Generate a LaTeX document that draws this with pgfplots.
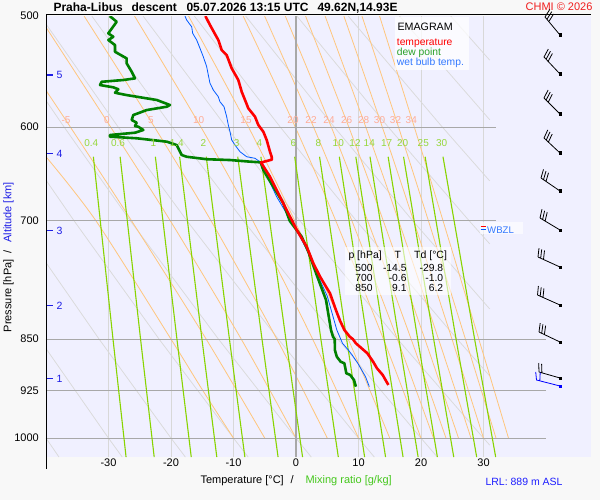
\documentclass[border=0pt]{standalone}
\usepackage{pgfplots}
\pgfplotsset{compat=1.18}
\usepackage{fontspec}
\setmainfont{Liberation Sans}
\definecolor{outerbg}{RGB}{248,248,248}
\definecolor{plotbg}{RGB}{240,240,255}
\definecolor{isobar}{RGB}{168,168,168}
\definecolor{isolight}{RGB}{216,216,216}
\definecolor{dryad}{RGB}{218,218,218}
\definecolor{moistad}{RGB}{255,198,125}
\definecolor{mixl}{RGB}{136,212,0}
\definecolor{mixlab}{RGB}{150,215,60}
\definecolor{moistlab}{RGB}{255,172,150}
\definecolor{tred}{RGB}{255,0,0}
\definecolor{tdgreen}{RGB}{0,128,0}
\definecolor{wbblue}{RGB}{0,90,255}
\definecolor{legblue}{RGB}{50,120,255}
\definecolor{leggreen}{RGB}{40,160,40}
\definecolor{altblue}{RGB}{30,30,230}
\definecolor{xlabgreen}{RGB}{70,200,30}
\definecolor{chmired}{RGB}{240,30,30}
\definecolor{lrlblue}{RGB}{30,30,255}
\pgfplotsset{
  dry/.style={dryad, line width=0.75pt},
  moist/.style={moistad, line width=0.8pt, smooth},
  mix/.style={mixl, line width=1.1pt},
  isoL/.style={isolight, line width=0.9pt},
  isoP/.style={isobar, line width=1.1pt},
}
\tikzset{
  mlab/.style={anchor=base, inner sep=0pt, font=\fontsize{10}{10}\selectfont, text=moistlab},
  wlab/.style={anchor=base, inner sep=0pt, font=\fontsize{10}{10}\selectfont, text=mixlab},
  alab/.style={anchor=base west, inner sep=0pt, font=\fontsize{10.5}{10.5}\selectfont, text=altblue},
  adash/.style={altblue, line width=1.1pt},
  tabt/.style={anchor=base east, inner sep=0pt, font=\fontsize{10.3}{10.3}\selectfont},
}
\begin{document}
\begin{tikzpicture}
\fill[outerbg] (0,0) rectangle (600pt,500pt);
% ---------- background (pixel axis) ----------
\begin{axis}[at={(0pt,0pt)}, anchor=south west, width=600pt, height=500pt,
  scale only axis, xmin=0, xmax=600, ymin=0, ymax=500, y dir=reverse,
  hide axis, clip=false]
  \fill[plotbg] (axis cs:47,16) rectangle (axis cs:591,457);
\end{axis}
% ---------- main emagram axis ----------
\begin{axis}[at={(46pt,43pt)}, anchor=south west, width=500pt, height=441pt,
  scale only axis, xmin=-40, xmax=40, ymode=log, ymin=500, ymax=1031.6,
  y dir=reverse,
  axis line style={draw=none}, tick style={draw=none}, major tick length=0pt,
  minor tick length=0pt,
  xtick={-30,-20,-10,0,10,20,30}, xticklabels={-30,-20,-10,0,10,20,30},
  ytick={500,600,700,850,925,1000}, yticklabels={500,600,700,850,925,1000},
  ticklabel style={font=\fontsize{11}{11}\selectfont, inner sep=0pt},
  xticklabel style={anchor=north, yshift=-1.5pt},
  yticklabel style={anchor=east, xshift=-7pt},
]
% isotherms
\addplot[isoL] coordinates {(-30,500)(-30,1031.6)};
\addplot[isoL] coordinates {(-20,500)(-20,1031.6)};
\addplot[isoL] coordinates {(-10,500)(-10,1031.6)};
\addplot[isoL] coordinates {(10,500)(10,1031.6)};
\addplot[isoL] coordinates {(20,500)(20,1031.6)};
\addplot[isoL] coordinates {(30,500)(30,1031.6)};
% dry adiabats
\addplot[dry] coordinates {(-40,1000)(-37.92,1031.6)};
\addplot[dry] coordinates {(-40,863.3)(-30,1000)(-27.8,1031.6)};
\addplot[dry] coordinates {(-40,749.7)(-31.5,850)(-20,1000)(-17.7,1031.6)};
\addplot[dry] coordinates {(-40,654.7)(-35.5,700)(-21.9,850)(-10,1000)(-7.65,1031.6)};
\addplot[dry] coordinates {(-40,574.5)(-37.1,600)(-26.5,700)(-12.4,850)(0,1000)(2.44,1031.6)};
\addplot[dry] coordinates {(-40,506.6)(-28.45,600)(-17.43,700)(-2.84,850)(10,1000)(12.53,1031.6)};
\addplot[dry] coordinates {(-32.67,500)(-19.80,600)(-8.40,700)(6.70,850)(20,1000)(22.62,1031.6)};
\addplot[dry] coordinates {(-24.46,500)(-11.16,600)(0.63,700)(16.25,850)(30,1000)(31,1011.6)};
\addplot[dry] coordinates {(-16.26,500)(-2.52,600)(9.66,700)(25.79,850)(31,903.0)};
\addplot[dry] coordinates {(-8.06,500)(6.12,600)(18.69,700)(31,808.9)};
\addplot[dry] coordinates {(0.14,500)(14.76,600)(27.72,700)(31,727.0)};
\addplot[dry] coordinates {(8.35,500)(23.41,600)(31,655.6)};
\addplot[dry] coordinates {(16.55,500)(31,592.9)};
\addplot[dry] coordinates {(24.75,500)(31,537.6)};
% moist adiabats
\addplot[moist] coordinates {(-10,1000)(-14.9,925)(-20.0,850)(-32.0,700)(-40,630)};
\addplot[moist] coordinates {(-5,1000)(-14.37,850)(-26.30,700)(-36.10,600)(-40,565)};
\addplot[moist] coordinates {(0,1000)(-8.76,850)(-20.10,700)(-29.65,600)(-40,509.3)};
\addplot[moist] coordinates {(5,1000)(-3.06,850)(-13.59,700)(-22.64,600)(-33.90,500)};
\addplot[moist] coordinates {(10,1000)(2.66,850)(-6.90,700)(-15.21,600)(-25.83,500)};
\addplot[moist] coordinates {(15,1000)(8.35,850)(-0.20,700)(-7.60,600)(-17.19,500)};
\addplot[moist] coordinates {(20,1000)(13.99,850)(6.37,700)(-0.12,600)(-8.45,500)};
\addplot[moist] coordinates {(22,1000)(16.21,850)(8.95,700)(2.81,600)(-5.02,500)};
\addplot[moist] coordinates {(24,1000)(18.42,850)(11.47,700)(5.65,600)(-1.71,500)};
\addplot[moist] coordinates {(26,1000)(20.62,850)(13.97,700)(8.45,600)(1.53,500)};
\addplot[moist] coordinates {(28,1000)(22.80,850)(16.42,700)(11.17,600)(4.66,500)};
\addplot[moist] coordinates {(30,1000)(24.96,850)(18.82,700)(13.81,600)(7.66,500)};
\addplot[moist] coordinates {(32,1000)(27.11,850)(21.19,700)(16.40,600)(10.56,500)};
\addplot[moist] coordinates {(34,1000)(29.25,850)(23.53,700)(18.93,600)(13.37,500)};
% isobars and 0 isotherm
\addplot[isoP] coordinates {(0,500)(0,1031.6)};
\addplot[isoP] coordinates {(-40,600)(32,600)};
\addplot[isoP] coordinates {(-40,700)(32,700)};
\addplot[isoP] coordinates {(-40,850)(40,850)};
\addplot[isoP] coordinates {(-40,925)(40,925)};
\addplot[isoP] coordinates {(-40,1000)(40,1000)};
% mixing ratio lines
\addplot[mix] coordinates {(-32.42,630)(-29.28,850)(-27.19,1031.6)};
\addplot[mix] coordinates {(-28.14,630)(-24.87,850)(-22.69,1031.6)};
\addplot[mix] coordinates {(-22.50,630)(-19.05,850)(-16.76,1031.6)};
\addplot[mix] coordinates {(-18.62,630)(-15.05,850)(-12.67,1031.6)};
\addplot[mix] coordinates {(-14.36,630)(-10.65,850)(-8.18,1031.6)};
\addplot[mix] coordinates {(-9.32,630)(-5.44,850)(-2.87,1031.6)};
\addplot[mix] coordinates {(-5.62,630)(-1.62,850)(1.05,1031.6)};
\addplot[mix] coordinates {(-0.21,630)(3.98,850)(6.77,1031.6)};
\addplot[mix] coordinates {(3.77,630)(8.10,850)(10.98,1031.6)};
\addplot[mix] coordinates {(6.93,630)(11.38,850)(14.33,1031.6)};
\addplot[mix] coordinates {(9.57,630)(14.11,850)(17.13,1031.6)};
\addplot[mix] coordinates {(11.84,630)(16.46,850)(19.54,1031.6)};
\addplot[mix] coordinates {(14.74,630)(19.47,850)(22.62,1031.6)};
\addplot[mix] coordinates {(17.21,630)(22.03,850)(25.24,1031.6)};
\addplot[mix] coordinates {(20.66,630)(25.61,850)(28.91,1031.6)};
\addplot[mix] coordinates {(23.52,630)(28.58,850)(31.95,1031.6)};
% wet bulb temperature
\addplot[wbblue, line width=0.8pt] coordinates {(-17.76,500)(-17.49,503.3)(-16.69,508.9)(-16.53,514.4)(-15.89,520.1)(-15.36,527.2)(-14.83,534.6)(-14.29,543.4)(-14.03,550.9)(-13.76,558.4)(-13.23,564.6)(-12.43,570.9)(-12.16,575.6)(-11.52,580.3)(-11.09,589.9)(-10.83,598.0)(-10.56,604.6)(-10.29,612.9)(-9.76,618.0)(-8.96,624.8)(-7.89,630.0)(-6.56,631.6)(-5.65,635.8)(-4.6,651)(-3.1,672.7)(-0.8,700)(0.6,718)(1.8,735)(3.5,766)(5.0,792)(6.53,837.3)(7.44,855.8)(8.37,865.3)(8.98,872.4)(9.89,884.4)(10.51,894.2)(11.12,904.0)(11.73,919.0)};
% dew point
\addplot[tdgreen, line width=2.6pt, line join=round] coordinates {(-29.8,500)(-28.69,504.7)(-30.03,514.4)(-29.23,517.3)(-30.03,520.1)(-28.96,524.4)(-28.96,530.2)(-27.09,536.0)(-27.09,540.4)(-26.29,547.9)(-25.76,553.9)(-27.63,555.4)(-31.09,557.0)(-31.36,560.0)(-29.23,562.1)(-28.43,563.9)(-28.96,567.1)(-27.09,569.3)(-22.29,573.9)(-20.16,578.7)(-20.69,580.3)(-23.89,583.5)(-26.03,588.3)(-26.29,593.1)(-25.49,595.7)(-25.76,599.0)(-25.23,599.7)(-24.43,602.9)(-25.76,605.6)(-29.76,607.9)(-29.76,609.6)(-25.49,611.2)(-20.69,614.6)(-19.09,618.0)(-18.29,628.2)(-17.49,630.0)(-14.29,632.6)(-10.56,633.4)(-7.36,635.1)(-5.65,635.8)(-5.23,643.9)(-3.63,661.8)(-2.03,680.0)(-1.0,700)(0.91,718.4)(1.97,736.3)(3.31,765.0)(4.8,797.1)(5.6,837.3)(5.92,846.6)(6.2,850)(6.22,865.3)(6.53,874.9)(7.14,882.1)(7.74,884.4)(8.05,899.0)(8.67,901.5)(9.28,909.0)(9.58,919.0)};
% temperature
\addplot[tred, line width=2.6pt, line join=round] coordinates {(-14.5,500)(-13.76,507.4)(-12.43,520.1)(-11.89,528.7)(-11.09,533.1)(-10.29,544.8)(-9.23,555.4)(-8.69,566.2)(-8.16,573.9)(-7.63,581.8)(-6.56,589.9)(-6.03,598.0)(-5.23,604.6)(-4.69,612.9)(-4.16,624.8)(-3.89,630.0)(-3.85,633)(-5.6,636)(-4.16,651.0)(-2.56,672.7)(-0.96,695.2)(-0.6,700)(0.11,710.5)(1.71,730.3)(2.77,750.5)(3.84,767.1)(5.44,788.4)(6.4,810.6)(7.04,824.6)(7.74,837.3)(8.6,846.6)(9.1,850)(9.58,855.8)(11.42,870.0)(12.34,882.1)(12.96,891.7)(13.87,901.5)(14.78,916.4)};
\end{axis}
% ---------- overlay (pixel axis) ----------
\begin{axis}[at={(0pt,0pt)}, anchor=south west, width=600pt, height=500pt,
  scale only axis, xmin=0, xmax=600, ymin=0, ymax=500, y dir=reverse,
  hide axis, clip=false]
  % frame lines
  \draw[black, line width=1pt] (axis cs:46,469) -- (axis cs:46,15) -- (axis cs:591,15);
  % title
  \node[anchor=base west, font=\bfseries\fontsize{12}{12}\selectfont] at (axis cs:50,12) {Praha-Libus};
  \node[anchor=base west, font=\bfseries\fontsize{12}{12}\selectfont] at (axis cs:128,12) {descent};
  \node[anchor=base west, font=\bfseries\fontsize{12}{12}\selectfont] at (axis cs:183,12) {05.07.2026 13:15 UTC};
  \node[anchor=base west, font=\bfseries\fontsize{12}{12}\selectfont] at (axis cs:314,12) {49.62N,14.93E};
  \node[anchor=base east, font=\fontsize{11}{11}\selectfont, text=chmired] at (axis cs:596,11) {CHMI © 2026};
  % axis labels
  \node[rotate=90, anchor=base, font=\fontsize{11}{11}\selectfont] at (axis cs:11.3,295.8) {Pressure [hPa]};
  \node[rotate=90, anchor=base, font=\fontsize{11}{11}\selectfont] at (axis cs:11.3,251.5) {/};
  \node[rotate=90, anchor=base, font=\fontsize{11}{11}\selectfont, text=altblue] at (axis cs:11.3,212.5) {Altitude [km]};
  \node[anchor=base west, font=\fontsize{11}{11}\selectfont] at (axis cs:197,483) {Temperature [°C]};
  \node[anchor=base west, font=\fontsize{11}{11}\selectfont] at (axis cs:287,483) {/};
  \node[anchor=base west, font=\fontsize{11}{11}\selectfont, text=xlabgreen] at (axis cs:302,483) {Mixing ratio [g/kg]};
  \node[anchor=base west, font=\fontsize{10.5}{10.5}\selectfont, text=lrlblue] at (axis cs:482,485.5) {LRL: 889 m ASL};
  % altitude marks
  \draw[adash] (axis cs:47,75) -- (axis cs:53,75);
  \draw[adash] (axis cs:47,153.5) -- (axis cs:53,153.5);
  \draw[adash] (axis cs:47,230.7) -- (axis cs:53,230.7);
  \draw[adash] (axis cs:47,305.7) -- (axis cs:53,305.7);
  \draw[adash] (axis cs:47,378.3) -- (axis cs:53,378.3);
  \node[alab] at (axis cs:56.5,78.8) {5};
  \node[alab] at (axis cs:56.5,157.3) {4};
  \node[alab] at (axis cs:56.5,234.5) {3};
  \node[alab] at (axis cs:56.5,309.5) {2};
  \node[alab] at (axis cs:56.5,382.1) {1};
  % moist adiabat labels
  \node[mlab] at (axis cs:66,124) {-5};
  \node[mlab] at (axis cs:107,124) {0};
  \node[mlab] at (axis cs:151,124) {5};
  \node[mlab] at (axis cs:198.7,124) {10};
  \node[mlab] at (axis cs:246,124) {15};
  \node[mlab] at (axis cs:293,124) {20};
  \node[mlab] at (axis cs:311,124) {22};
  \node[mlab] at (axis cs:329,124) {24};
  \node[mlab] at (axis cs:346.7,124) {26};
  \node[mlab] at (axis cs:363.7,124) {28};
  \node[mlab] at (axis cs:379.5,124) {30};
  \node[mlab] at (axis cs:395.5,124) {32};
  \node[mlab] at (axis cs:411.3,124) {34};
  % mixing ratio labels
  \node[wlab] at (axis cs:91.2,146.7) {0.4};
  \node[wlab] at (axis cs:118,146.7) {0.6};
  \node[wlab] at (axis cs:153.3,146.7) {1};
  \node[wlab] at (axis cs:176.7,146.7) {1.4};
  \node[wlab] at (axis cs:203.3,146.7) {2};
  \node[wlab] at (axis cs:236.7,146.7) {3};
  \node[wlab] at (axis cs:259.3,146.7) {4};
  \node[wlab] at (axis cs:293.3,146.7) {6};
  \node[wlab] at (axis cs:318.3,146.7) {8};
  \node[wlab] at (axis cs:338.3,146.7) {10};
  \node[wlab] at (axis cs:355,146.7) {12};
  \node[wlab] at (axis cs:369.3,146.7) {14};
  \node[wlab] at (axis cs:386.7,146.7) {17};
  \node[wlab] at (axis cs:402.7,146.7) {20};
  \node[wlab] at (axis cs:423.3,146.7) {25};
  \node[wlab] at (axis cs:441.7,146.7) {30};
  % legend box
  \fill[white, fill opacity=0.75] (axis cs:395,16.7) rectangle (axis cs:469.3,70);
  \node[anchor=base west, inner sep=0pt, font=\fontsize{10.7}{10.7}\selectfont] at (axis cs:397.3,30.3) {EMAGRAM};
  \node[anchor=base west, inner sep=0pt, font=\fontsize{10.3}{10.3}\selectfont, text=tred] at (axis cs:396.7,45.3) {temperature};
  \node[anchor=base west, inner sep=0pt, font=\fontsize{10.3}{10.3}\selectfont, text=leggreen] at (axis cs:396.7,55.3) {dew point};
  \node[anchor=base west, inner sep=0pt, font=\fontsize{10.3}{10.3}\selectfont, text=legblue] at (axis cs:396.7,65.3) {wet bulb temp.};
  % table box
  \fill[white, fill opacity=0.6] (axis cs:345,246.7) rectangle (axis cs:450.7,295);
  \node[anchor=base west, inner sep=0pt, font=\fontsize{10.5}{10.5}\selectfont] at (axis cs:348.3,258.3) {p [hPa]};
  \node[anchor=base west, inner sep=0pt, font=\fontsize{10.5}{10.5}\selectfont] at (axis cs:394.3,258.3) {T};
  \node[anchor=base west, inner sep=0pt, font=\fontsize{10.5}{10.5}\selectfont] at (axis cs:414,258.3) {Td [°C]};
  \node[tabt] at (axis cs:372.7,271.7) {500};
  \node[tabt] at (axis cs:406.7,271.7) {-14.5};
  \node[tabt] at (axis cs:443.3,271.7) {-29.8};
  \node[tabt] at (axis cs:372.7,281.7) {700};
  \node[tabt] at (axis cs:406.7,281.7) {-0.6};
  \node[tabt] at (axis cs:443.3,281.7) {-1.0};
  \node[tabt] at (axis cs:372.7,291.7) {850};
  \node[tabt] at (axis cs:406.7,291.7) {9.1};
  \node[tabt] at (axis cs:443.3,291.7) {6.2};
  % WBZL
  \fill[white, fill opacity=0.6] (axis cs:480,221.7) rectangle (axis cs:522.7,234.3);
  \draw[tred, line width=0.9pt] (axis cs:480.7,226.8) -- (axis cs:485.7,226.8);
  \draw[wbblue, line width=0.9pt] (axis cs:480.7,229.6) -- (axis cs:485.7,229.6);
  \node[anchor=base west, inner sep=0pt, font=\fontsize{9.6}{9.6}\selectfont, text=legblue] at (axis cs:487,233.3) {WBZL};
  % wind barbs
  \addplot[black, line width=0.8pt, unbounded coords=jump] coordinates {
   (560,35)(545,17)(nan,nan)(545,17)(549.8,9.4)(nan,nan)(546.9,19.3)(551.7,11.7)(nan,nan)(548.8,21.6)(553.6,14.0)(nan,nan)
   (560,74)(544,57)(nan,nan)(544,57)(548.3,49.1)(nan,nan)(546.1,59.2)(550.4,51.3)(nan,nan)(548.1,61.4)(552.4,53.5)(nan,nan)
   (560,114)(544,98)(nan,nan)(544,98)(548.1,90.0)(nan,nan)(546.1,100.1)(550.2,92.1)(nan,nan)(548.2,102.2)(552.3,94.2)(nan,nan)
   (560,153)(544,138)(nan,nan)(544,138)(547.8,129.9)(nan,nan)(546.2,140.1)(550.0,131.9)(nan,nan)(548.4,142.1)(552.2,134.0)(nan,nan)
   (560,191)(541,178)(nan,nan)(541,178)(543.5,169.4)(nan,nan)(543.5,179.7)(546.0,171.1)(nan,nan)(546.0,181.4)(548.5,172.8)(nan,nan)
   (560,230)(540,218)(nan,nan)(540,218)(542.0,209.2)(nan,nan)(542.6,219.6)(544.6,210.8)(nan,nan)(545.1,221.1)(547.2,212.3)(nan,nan)
   (560,267)(538,257)(nan,nan)(538,257)(539.0,248.1)(nan,nan)(540.7,258.2)(541.7,249.3)(nan,nan)(543.5,259.5)(544.5,250.5)(nan,nan)
   (560,305)(537.5,295)(nan,nan)(537.5,295)(538.4,286.0)(nan,nan)(540.2,296.2)(541.2,287.3)(nan,nan)(543.0,297.4)(543.9,288.5)(nan,nan)
   (560,342)(539,332)(nan,nan)(539,332)(540.2,323.1)(nan,nan)(541.7,333.3)(542.9,324.4)(nan,nan)(544.4,334.6)(545.6,325.6)(nan,nan)
   (560,378)(539,372)(nan,nan)(539,372)(538.7,363)(nan,nan)(541.9,372.8)(541.6,363.8)
  };
  \addplot[only marks, mark=square*, mark size=1.3pt, black] coordinates {(560,35)(560,74)(560,114)(560,153)(560,191)(560,230)(560,267)(560,305)(560,342)(560,378)};
  \addplot[blue, line width=0.8pt, unbounded coords=jump] coordinates {(560,386)(536.5,380)(535.7,372)(nan,nan)(536.5,380)(539.8,380.8)(540.2,372.5)};
  \addplot[only marks, mark=square*, mark size=1.3pt, blue] coordinates {(560,386)};
\end{axis}
\pgfresetboundingbox
\useasboundingbox (0,0) rectangle (600pt,500pt);
\end{tikzpicture}
\end{document}
